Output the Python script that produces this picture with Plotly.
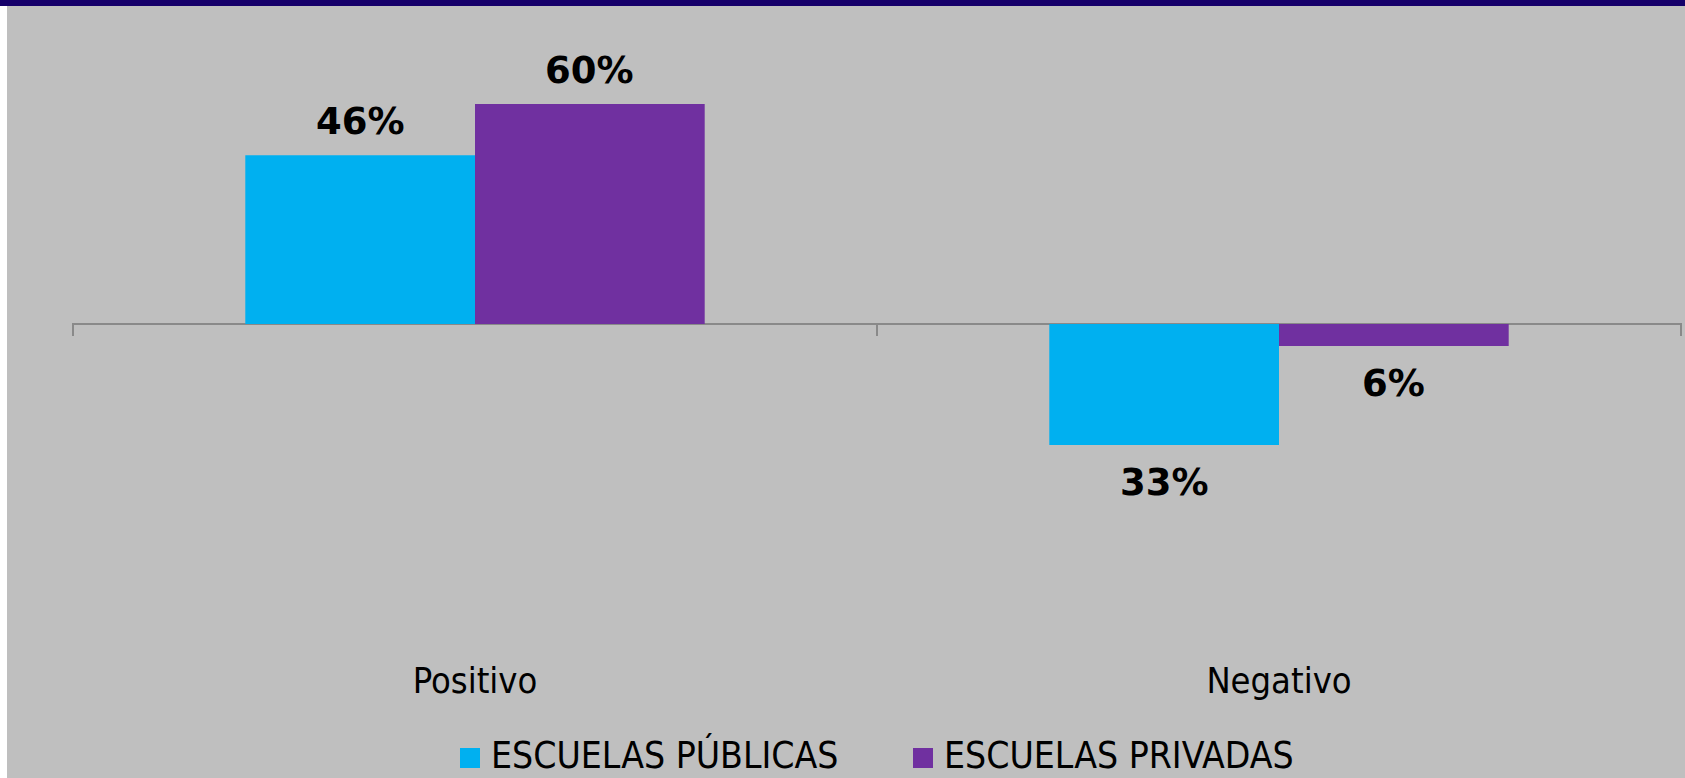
import plotly.graph_objects as go

categories = ["Positivo", "Negativo"]
series_names = ["ESCUELAS PÚBLICAS", "ESCUELAS PRIVADAS"]
publicas = [46, -33]
privadas = [60, -6]
label_text_pub = ["46%", "33%"]
label_text_priv = ["60%", "6%"]
colors = ["#00B0F0", "#7030A0"]

W, H = 1685, 778
ML, MR, MT, MB = 72, 3, 30, 128
plot_w = W - ML - MR
plot_h = H - MT - MB
zero_px = 324
px_per_unit = 220 / 60.0
y_top = (zero_px - MT) / px_per_unit
y_bot = -((H - MB) - zero_px) / px_per_unit

bargap = 0.4286
bar_w = (1 - bargap) / 2

def px_x(p):
    return (p - ML) / plot_w

def px_y(p):
    return 1 - (p - MT) / plot_h

fig = go.Figure()
for name, vals, col in zip(series_names, [publicas, privadas], colors):
    fig.add_trace(go.Bar(x=categories, y=vals, name=name, marker=dict(color=col, line=dict(width=0)),
                         showlegend=False, hoverinfo="skip"))

annotations = []
for i, cat in enumerate(categories):
    for j, (vals, texts) in enumerate([(publicas, label_text_pub), (privadas, label_text_priv)]):
        v = vals[i]
        xoff = (-0.5 + j) * bar_w
        annotations.append(dict(
            x=i + xoff, y=v, xref="x", yref="y", text=texts[i], showarrow=False,
            xanchor="center", yanchor="bottom" if v >= 0 else "top",
            yshift=10 if v >= 0 else -14,
            font=dict(family="DejaVu Sans", size=37, color="#000000", weight="bold")))

# legend (manual, large square markers)
leg_marker_x = [460, 913]
leg_text_x = [490, 943]
leg_marker_y = 758
leg_text_y = 755
shapes = [
    # top dark band
    dict(type="rect", xref="paper", yref="paper", x0=px_x(0), x1=px_x(W), y0=px_y(6), y1=px_y(0),
         fillcolor="#16006A", line=dict(width=0), layer="below"),
    # left white strip
    dict(type="rect", xref="paper", yref="paper", x0=px_x(0), x1=px_x(7), y0=px_y(H), y1=px_y(6),
         fillcolor="#FFFFFF", line=dict(width=0), layer="below"),
]
for b in [-0.5, 0.5, 1.5]:
    shapes.append(dict(type="line", xref="x", yref="y", ysizemode="pixel", yanchor=0,
                       x0=b, x1=b, y0=0, y1=-12, line=dict(color="#898989", width=2)))
for k in range(2):
    shapes.append(dict(type="rect", xref="paper", yref="paper",
                       x0=px_x(leg_marker_x[k]), x1=px_x(leg_marker_x[k] + 20),
                       y0=px_y(leg_marker_y + 10), y1=px_y(leg_marker_y - 10),
                       fillcolor=colors[k], line=dict(width=0)))
    annotations.append(dict(x=px_x(leg_text_x[k]), y=px_y(leg_text_y), xref="paper", yref="paper",
                            text=series_names[k], showarrow=False, xanchor="left", yanchor="middle",
                            borderpad=0,
                            font=dict(family="DejaVu Sans Condensed", size=37, color="#000000")))

fig.update_layout(
    width=W, height=H, autosize=False,
    margin=dict(l=ML, r=MR, t=MT, b=MB, pad=0),
    paper_bgcolor="#BFBFBF", plot_bgcolor="#BFBFBF",
    barmode="group", bargap=bargap, bargroupgap=0,
    shapes=shapes, annotations=annotations,
    xaxis=dict(showgrid=False, showline=False, ticks="", zeroline=False,
               tickfont=dict(family="DejaVu Sans Condensed", size=36, color="#000000"),
               ticklabelstandoff=6),
    yaxis=dict(range=[y_bot, y_top], showgrid=False, showticklabels=False, ticks="",
               zeroline=True, zerolinecolor="#898989", zerolinewidth=2, showline=False),
)

fig.write_html("out.html", config={"displayModeBar": False},
               post_script="document.body.style.margin='0';document.body.style.padding='0';document.body.style.overflow='hidden';")
